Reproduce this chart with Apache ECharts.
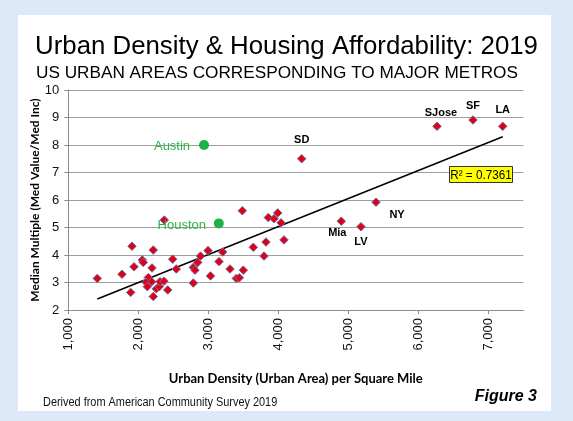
<!DOCTYPE html>
<html>
<head>
<meta charset="utf-8">
<title>Urban Density & Housing Affordability: 2019</title>
<script src="https://cdn.jsdelivr.net/npm/echarts@6/dist/echarts.min.js"></script>
<style>
  html, body { margin: 0; padding: 0; background: #dde8f8; }
  #chart { width: 573px; height: 421px; }
</style>
</head>
<body>
<div id="chart"></div>
<script>
// unlabelled urban areas: density (per sq mi) and median multiple
const densityX = [
  1414, 1767, 1891, 1910, 1939, 2057, 2071, 2214, 2196, 2143,
  2110, 2129, 2191, 2214, 2257, 2300, 2310, 2367, 2420, 2491,
  2543, 2371, 3486, 3857, 3939, 3991, 4039, 4081, 3824, 3643,
  3796, 3206, 2996, 2889, 2849, 2786, 2810, 3153, 3310, 3500,
  3031, 2786, 3400, 3443
]
const multipleY = [
  3.15, 3.30, 2.64, 4.32, 3.57, 3.82, 3.73, 4.18, 3.53, 3.18,
  3.01, 2.85, 3.03, 2.49, 2.77, 2.85, 3.03, 3.05, 2.73, 3.85,
  3.49, 5.27, 5.61, 5.36, 5.32, 5.53, 5.17, 4.55, 4.47, 4.28,
  3.96, 4.11, 4.16, 3.96, 3.73, 3.55, 3.45, 3.76, 3.49, 3.45,
  3.24, 2.98, 3.15, 3.17
]

// labelled metros
const metroNames = ['SD', 'SJose', 'SF', 'LA', 'NY', 'Mia', 'LV']
const metroX = [4334, 6267, 6781, 7206, 5396, 4900, 5181]
const metroY = [7.50, 8.68, 8.91, 8.68, 5.92, 5.23, 5.03]

// Texas highlights
const highlightNames = ['Austin', 'Houston']
const highlightX = [2939, 3150]
const highlightY = [8.00, 5.15]

// fitted trend line, as drawn
const trendX = [1414, 7206]
const trendY = [2.40, 8.30]
const rSquaredText = 'R² = 0.7361'

// label placement relative to each point (px)
const metroLabelOffset = {
  SD: [0, -19],
  SJose: [4, -13],
  SF: [0, -14],
  LA: [0, -16],
  NY: [21, 13],
  Mia: [-4, 12],
  LV: [0, 15]
}
const highlightLabelOffset = {
  Austin: [-32, 1],
  Houston: [-37, 2]
}

const GRID = { left: 68.3, right: 49.7, top: 90, bottom: 111 }
const DIAMOND_STYLE = { color: '#e0000f', borderColor: '#6f6aaf', borderWidth: 1, opacity: 1 }
const GRID_GRAY = '#9e9e9e'

const formatThousands = (value) => String(value).replace(/\B(?=(\d{3})+(?!\d))/g, ',')

const zip = (xs, ys) => xs.map((x, i) => [x, ys[i]])

const chart = echarts.init(document.getElementById('chart'))

chart.setOption({
  backgroundColor: '#dde8f8',
  animation: false,
  title: [
    {
      text: 'Urban Density & Housing Affordability: 2019',
      left: 'center',
      top: 29,
      textStyle: {
        fontFamily: 'Liberation Sans',
        fontWeight: 'normal',
        fontSize: 25.8,
        color: '#000'
      }
    },
    {
      text: 'US URBAN AREAS CORRESPONDING TO MAJOR METROS',
      left: 31,
      top: 60,
      textStyle: {
        fontFamily: 'Liberation Sans',
        fontWeight: 'normal',
        fontSize: 17.2,
        color: '#000'
      }
    }
  ],
  graphic: [
    {
      type: 'rect',
      z: -10,
      silent: true,
      shape: { x: 18, y: 15, width: 533, height: 396 },
      style: { fill: '#ffffff' }
    },
    {
      type: 'group',
      left: 449,
      top: 166,
      z: 50,
      children: [
        {
          type: 'rect',
          z: 50,
          shape: { x: 0, y: 0, width: 63, height: 16 },
          style: { fill: '#ffff00', stroke: '#333', lineWidth: 1 }
        },
        {
          type: 'text',
          z: 51,
          x: 31.5,
          y: 8.5,
          scaleX: 0.9,
          style: {
            text: rSquaredText,
            fontFamily: 'Liberation Sans',
            fontSize: 13,
            fill: '#000',
            align: 'center',
            verticalAlign: 'middle'
          }
        }
      ]
    },
    {
      // condensed source note
      type: 'text',
      x: 43,
      y: 396,
      scaleX: 0.84,
      style: {
        text: 'Derived from American Community Survey 2019',
        fontFamily: 'Liberation Sans',
        fontSize: 13,
        fill: '#111'
      }
    },
    {
      type: 'text',
      right: 36,
      top: 389,
      style: {
        text: 'Figure 3',
        fontFamily: 'Liberation Sans',
        fontWeight: 'bold',
        fontStyle: 'italic',
        fontSize: 16,
        fill: '#000'
      }
    }
  ],
  grid: GRID,
  xAxis: {
    type: 'value',
    min: 1000,
    max: 7500,
    interval: 1000,
    name: 'Urban Density (Urban Area) per Square Mile',
    nameLocation: 'middle',
    nameGap: 62,
    nameTextStyle: {
      fontFamily: 'Lato',
      fontWeight: 'bold',
      fontSize: 13,
      color: '#000'
    },
    axisLine: { show: true, onZero: false, lineStyle: { color: '#8c8c8c' } },
    axisTick: { show: true, length: 4, lineStyle: { color: '#8c8c8c' } },
    splitLine: { show: false },
    axisLabel: {
      rotate: 90,
      margin: 8,
      showMaxLabel: false,
      fontFamily: 'Liberation Sans',
      fontSize: 13,
      color: '#111',
      formatter: formatThousands
    }
  },
  yAxis: {
    type: 'value',
    min: 2,
    max: 10,
    interval: 1,
    name: 'Median Multiple (Med Value/Med Inc)',
    nameLocation: 'middle',
    nameRotate: 90,
    nameGap: 27,
    nameMoveOverlap: false,
    nameTextStyle: {
      fontFamily: 'Lato',
      fontWeight: 'bold',
      fontSize: 12,
      color: '#000'
    },
    axisLine: { show: true, lineStyle: { color: '#8c8c8c' } },
    axisTick: { show: true, length: 4, lineStyle: { color: '#8c8c8c' } },
    splitLine: { show: true, lineStyle: { color: GRID_GRAY, width: 1 } },
    axisLabel: {
      margin: 9,
      fontFamily: 'Liberation Sans',
      fontSize: 13,
      color: '#111'
    }
  },
  series: [
    {
      name: 'Urban areas',
      type: 'scatter',
      symbol: 'diamond',
      symbolSize: 8.5,
      itemStyle: DIAMOND_STYLE,
      data: zip(densityX, multipleY),
      z: 3
    },
    {
      name: 'Metros',
      type: 'scatter',
      symbol: 'diamond',
      symbolSize: 8.5,
      itemStyle: DIAMOND_STYLE,
      z: 3,
      data: metroNames.map((name, i) => ({
        name,
        value: [metroX[i], metroY[i]],
        label: {
          show: true,
          position: 'inside',
          offset: metroLabelOffset[name],
          formatter: '{b}',
          fontFamily: 'Liberation Sans',
          fontWeight: 'bold',
          fontSize: 11,
          color: '#000'
        }
      }))
    },
    {
      name: 'Texas',
      type: 'scatter',
      symbol: 'circle',
      symbolSize: 10,
      itemStyle: { color: '#22b04b', opacity: 1 },
      z: 4,
      data: highlightNames.map((name, i) => ({
        name,
        value: [highlightX[i], highlightY[i]],
        label: {
          show: true,
          position: 'inside',
          offset: highlightLabelOffset[name],
          formatter: '{b}',
          fontFamily: 'Liberation Sans',
          fontSize: 13,
          color: '#2db34a'
        }
      }))
    },
    {
      name: 'Trend',
      type: 'line',
      symbol: 'none',
      silent: true,
      lineStyle: { color: '#000', width: 1.5 },
      data: zip(trendX, trendY),
      z: 2
    }
  ]
})
</script>
</body>
</html>
